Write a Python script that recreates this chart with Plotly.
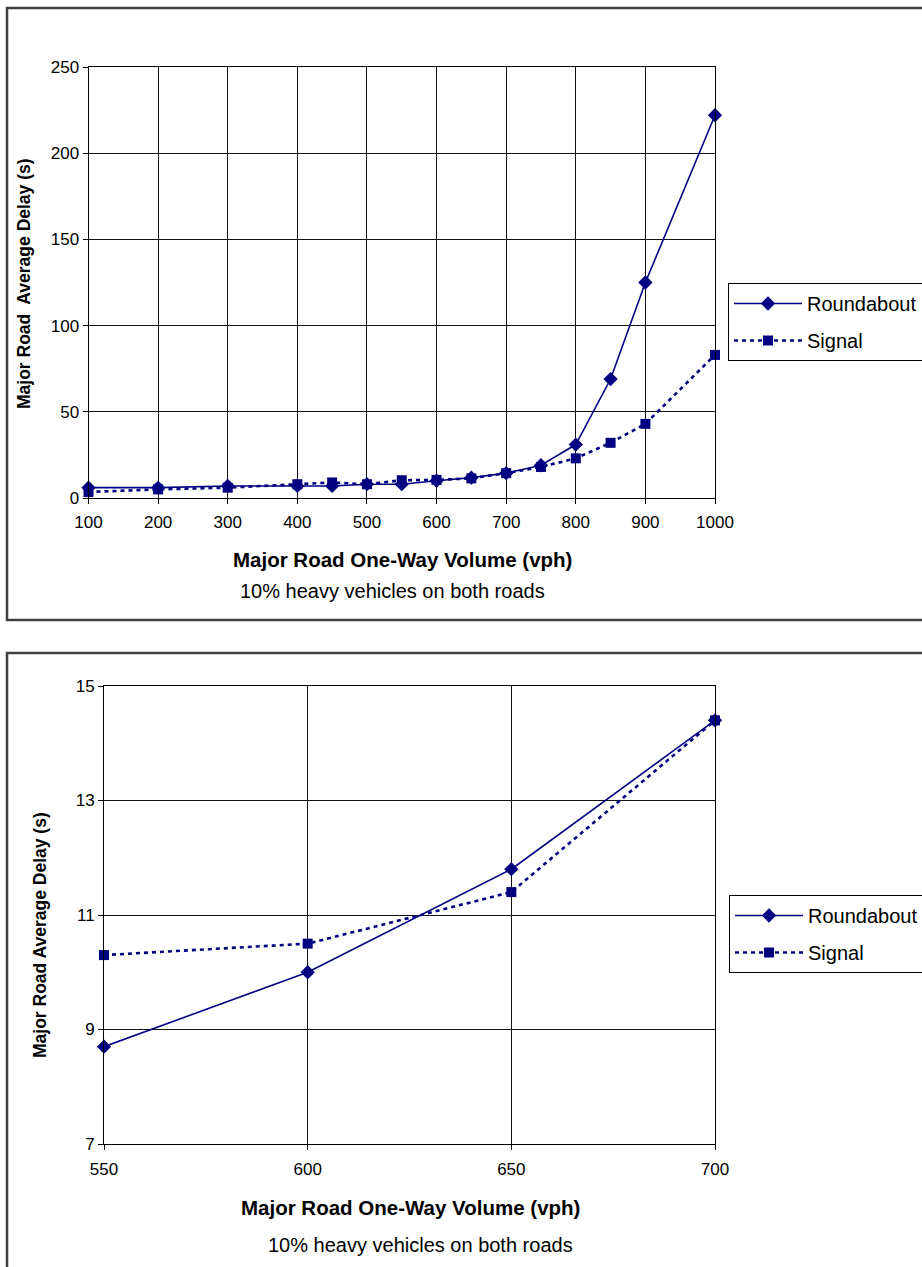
import plotly.graph_objects as go

# Full volume range (vph)
volume_full = [100, 200, 300, 400, 450, 500, 550, 600, 650, 700, 750, 800, 850, 900, 1000]
roundabout_full = [6, 6, 7, 7, 7, 8, 8, 10, 11.8, 14.4, 19, 31, 69, 125, 222]
signal_full = [3.5, 5, 6, 8, 9, 8, 10.3, 10.5, 11.4, 14.4, 18, 23, 32, 43, 83]

# Close-up range (vph)
volume_zoom = [550, 600, 650, 700]
roundabout_zoom = [8.7, 10.0, 11.8, 14.4]
signal_zoom = [10.3, 10.5, 11.4, 14.4]

W, H = 922, 1267
NAVY = "#000080"
FONT = "Liberation Sans, Arial, sans-serif"


def px_x(x):
    return x / W


def px_y(y):
    return 1 - y / H


fig = go.Figure()


def add_pair(xs, rb, sg, xa, ya, legend):
    fig.add_trace(go.Scatter(
        x=xs, y=rb, name="Roundabout", mode="lines+markers",
        line=dict(color=NAVY, width=1.6),
        marker=dict(symbol="diamond", size=11, color=NAVY),
        xaxis=xa, yaxis=ya, legend=legend, legendgroup="rb" + legend,
        cliponaxis=False))
    fig.add_trace(go.Scatter(
        x=xs, y=sg, name="Signal", mode="lines+markers",
        line=dict(color=NAVY, width=2.6, dash="4px,4px"),
        marker=dict(symbol="square", size=10, color=NAVY),
        xaxis=xa, yaxis=ya, legend=legend, legendgroup="sg" + legend,
        cliponaxis=False))


add_pair(volume_full, roundabout_full, signal_full, "x", "y", "legend")
add_pair(volume_zoom, roundabout_zoom, signal_zoom, "x2", "y2", "legend2")

axis_common = dict(
    showline=True, linecolor="black", linewidth=1, mirror=True,
    showgrid=True, gridcolor="#111111", gridwidth=1,
    ticks="outside", ticklen=5, tickcolor="black",
    tickfont=dict(family=FONT, size=17, color="black"),
    zeroline=False, fixedrange=True, automargin=False,
)

legend_common = dict(
    xanchor="left", yanchor="top",
    bordercolor="black", borderwidth=1, bgcolor="white",
    font=dict(family=FONT, size=20, color="black"),
    itemwidth=68, tracegroupgap=8, entrywidth=140,
)

fig.update_layout(
    width=W, height=H,
    # legends run past the right edge; keep the plot areas where they are
    margin=dict(l=0, r=0, t=0, b=0, autoexpand=False),
    paper_bgcolor="white", plot_bgcolor="white",
    font=dict(family=FONT, color="black"),
    showlegend=True,
    xaxis=dict(domain=[px_x(88.5), px_x(715)], range=[100, 1000], dtick=100,
               anchor="y", ticklabelstandoff=4, **axis_common),
    yaxis=dict(domain=[px_y(498), px_y(67)], range=[0, 250], dtick=50,
               anchor="x", **axis_common),
    xaxis2=dict(domain=[px_x(104), px_x(715)], range=[550, 700], dtick=50,
                anchor="y2", ticklabelstandoff=5, **axis_common),
    yaxis2=dict(domain=[px_y(1144), px_y(686)], range=[7, 15], tick0=7,
                dtick=2, anchor="x2", **axis_common),
    legend=dict(x=px_x(728), y=px_y(283), **legend_common),
    legend2=dict(x=px_x(729), y=px_y(895), **legend_common),
)

# Outer chart frames
for y0, y1 in [(8, 620), (653, 1280)]:
    fig.add_shape(type="rect", xref="paper", yref="paper",
                  x0=px_x(7), x1=px_x(940), y0=px_y(y1), y1=px_y(y0),
                  line=dict(color="#404040", width=2.5), layer="below")


def text(x, y, s, size, bold=False, angle=0):
    fig.add_annotation(x=px_x(x), y=px_y(y), xref="paper", yref="paper",
                       text=f"<b>{s}</b>" if bold else s, showarrow=False,
                       font=dict(family=FONT, size=size, color="black"),
                       textangle=angle, xanchor="center", yanchor="middle")


text(24, 284, "Major Road  Average Delay (s)", 17.5, True, -90)
text(402, 559, "Major Road One-Way Volume (vph)", 20.5, True)
text(392, 591, "10% heavy vehicles on both roads", 20)

text(40, 935, "Major Road Average Delay (s)", 17.5, True, -90)
text(410, 1207, "Major Road One-Way Volume (vph)", 20.5, True)
text(420, 1245, "10% heavy vehicles on both roads", 20)

fig.write_html("out.html", post_script="document.body.style.margin='0';")
